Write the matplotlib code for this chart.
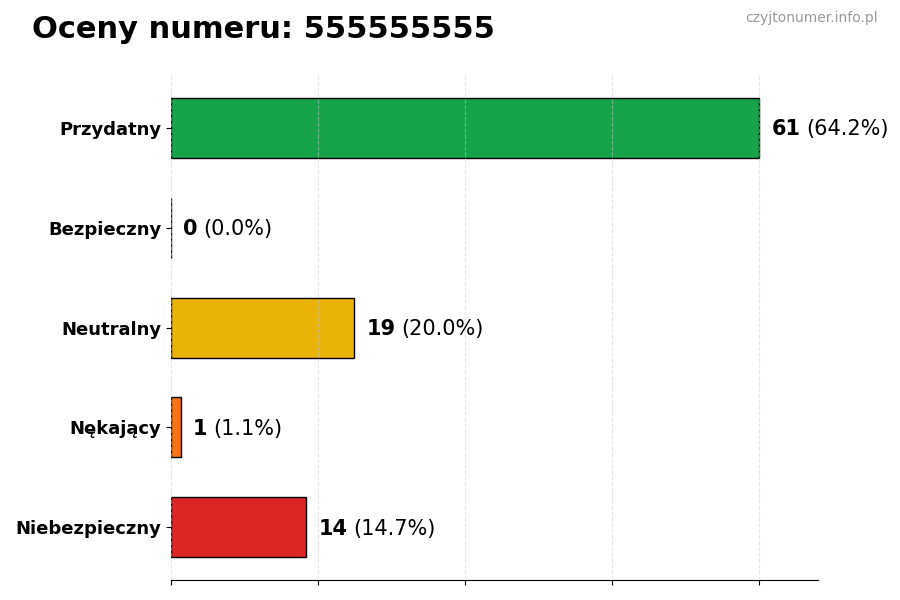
import numpy as np
import matplotlib.pyplot as plt

# dane z wykresu
kategorie = ["Przydatny", "Bezpieczny", "Neutralny", "Nękający", "Niebezpieczny"]
liczby = [61, 0, 19, 1, 14]
kolory = ["#16a34a", "#2563eb", "#eab308", "#f97316", "#dc2626"]
numer = "555555555"

total = sum(liczby)
procenty = [100.0 * v / total for v in liczby]

fig = plt.figure(figsize=(9, 6), dpi=100)
ax = fig.add_axes([0.19, 0.033, 0.719, 0.842])

y = np.arange(len(kategorie))
ax.barh(y, liczby, height=0.6, color=kolory, edgecolor="black", linewidth=1)
ax.invert_yaxis()
ax.set_yticks(y)
ax.set_yticklabels(kategorie, fontsize=13, fontweight="bold")

vmax = max(liczby)
ax.set_xlim(0, vmax * 1.1)
ax.set_xticks(np.linspace(0, vmax, 5))
ax.set_xticklabels([])
ax.grid(axis="x", linestyle="--", color="#cccccc", alpha=0.5)
ax.set_axisbelow(False)

for s in ["top", "right", "left"]:
    ax.spines[s].set_visible(False)

# etykiety: liczba pogrubiona + procent
for i, (v, p) in enumerate(zip(liczby, procenty)):
    t = ax.annotate(str(v), xy=(v, i), xytext=(9, -1), textcoords="offset points",
                    va="center", ha="left", fontsize=15, fontweight="bold")
    ax.annotate("(%.1f%%)" % p, xy=(1, 0.5), xycoords=t, xytext=(4, 0),
                textcoords="offset points", va="center", ha="left", fontsize=15)

fig.text(0.035, 0.95, "Oceny numeru: " + numer, fontsize=22, fontweight="bold",
         ha="left", va="center")
fig.text(0.975, 0.97, "czyjtonumer.info.pl", fontsize=10, color="#999999",
         ha="right", va="center")

fig.savefig("out.png")
